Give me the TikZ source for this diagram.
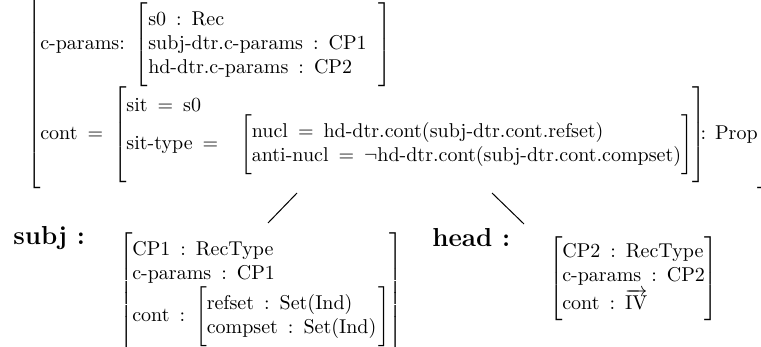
\documentclass[tikz,border=0pt]{standalone}
\usepackage{amsmath, amssymb}
\usetikzlibrary{positioning}

\newcommand{\tx}[1]{\text{#1}}
\newcommand{\feq}{\mathrel{\mkern4mu{=}\mkern4mu}}
\newcommand{\fcol}{\mathrel{\mkern4mu{:}\mkern4mu}}

\begin{document}
\begin{tikzpicture}[
    x=0.5pt, y=-0.5pt,
    avm/.style={inner sep=0pt, outer sep=0pt, execute at begin node={\delimitershortfall=-3pt}},
    lbl/.style={inner sep=0pt, anchor=west, font=\fontsize{13}{15}\selectfont\bfseries},
    branch/.style={draw, line width=0.5pt}
]
\useasboundingbox (0,0) rectangle (761,347);

% top feature structure
\node[avm, anchor=west] (top) at (27,93) {$\left[\begin{array}{@{}l@{}}
    \tx{c-params:}\ \left[\begin{array}{@{}l@{\hspace{6pt}}}
        \tx{s0} \fcol \tx{Rec}\\
        \tx{subj-dtr.c-params} \fcol \tx{CP1}\\
        \tx{hd-dtr.c-params} \fcol \tx{CP2}
    \end{array}\right]\\[1pt]
    \tx{cont} \feq \left[\begin{array}{@{}l@{}}
        \tx{sit} \feq \tx{s0}\\[-2pt]
        \tx{sit-type} \feq \hspace{6pt}\left[\begin{array}{@{}l@{}}
            \tx{nucl} \feq \tx{hd-dtr.cont(subj-dtr.cont.refset)}\\
            \tx{anti-nucl} \feq \neg\tx{hd-dtr.cont(subj-dtr.cont.compset)}
        \end{array}\right]
    \end{array}\right]\mkern-8mu\tx{: Prop}
\end{array}\right]$};

% daughters
\node[lbl] (subjlbl) at (13,238) {subj :};
\node[avm, anchor=north west] (subj) at (119,233) {$\left[\begin{array}{@{}l@{}}
    \tx{CP1} \fcol \tx{RecType}\\
    \tx{c-params} \fcol \tx{CP1}\\
    \tx{cont} \fcol \left[\begin{array}{@{}l@{\hspace{1pt}}}
        \tx{refset} \fcol \tx{Set(Ind)}\\
        \tx{compset} \fcol \tx{Set(Ind)}
    \end{array}\right]
\end{array}\right]$};

\node[lbl] (headlbl) at (432,238) {head :};
\node[avm, anchor=north west] (head) at (549,237) {$\left[\begin{array}{@{}l@{}}
    \tx{CP2} \fcol \tx{RecType}\\
    \tx{c-params} \fcol \tx{CP2}\\
    \tx{cont} \fcol \overrightarrow{\tx{IV}}
\end{array}\right]$};

% branches
\coordinate (subjtop) at (268,223);
\coordinate (headtop) at (524,224);
\coordinate (lroot) at (297,193);
\coordinate (rroot) at (492,193);
\path[branch] (lroot) -- (subjtop);
\path[branch] (rroot) -- (headtop);
\end{tikzpicture}
\end{document}
